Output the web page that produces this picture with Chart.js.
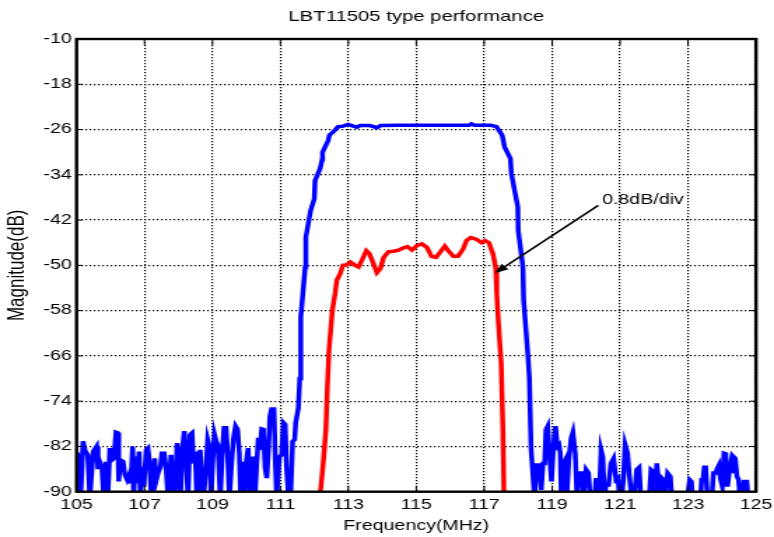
<!DOCTYPE html>
<html>
<head>
<meta charset="utf-8">
<script src="https://cdn.jsdelivr.net/npm/chart.js@4"></script>
<style>
html,body{margin:0;padding:0;background:#fff;overflow:hidden}
#wrap{width:774px;height:537px;overflow:hidden;background:#fff}
#c{transform:scaleX(1.39964);transform-origin:0 0}
</style>
</head>
<body>
<div id="wrap"><canvas id="c" width="553" height="537" style="width:553px;height:537px"></canvas></div>
<script>
const titleText = 'LBT11505 type performance';
const xTitle = 'Frequency(MHz)';
const yTitle = 'Magnitude(dB)';
const xTicks = [105, 107, 109, 111, 113, 115, 117, 119, 121, 123, 125];
const yTicks = [-90, -82, -74, -66, -58, -50, -42, -34, -26, -18, -10];

const blueFreq = [
  105.00,105.07,105.12,105.19,105.26,105.33,105.39,105.49,105.59,105.63,105.68,105.75,105.80,105.86,105.92,105.98,
  106.04,106.10,106.16,106.21,106.24,106.29,106.37,106.42,106.49,106.55,106.60,106.65,106.68,106.73,106.78,106.84,106.88,106.93,106.98,
  107.05,107.10,107.15,107.20,107.25,107.30,107.35,107.40,107.47,107.51,107.58,107.64,107.69,107.74,107.78,107.84,107.90,107.96,
  108.01,108.06,108.11,108.17,108.23,108.28,108.34,108.40,108.44,108.49,108.54,108.59,108.64,108.69,108.74,108.81,108.86,108.91,108.96,
  109.01,109.06,109.11,109.16,109.23,109.29,109.34,109.40,109.45,109.50,109.56,109.62,109.68,109.74,109.79,109.83,109.89,109.94,109.99,
  110.05,110.11,110.16,110.21,110.25,110.30,110.35,110.40,110.45,110.50,110.55,110.60,110.65,110.69,110.74,110.81,110.85,110.89,110.97,
  111.04,111.09,111.14,111.18,111.24,111.30,111.36,111.42,111.45,111.53,111.57,111.60,111.73,111.75,111.89,
  112.00,112.02,112.17,112.23,112.24,112.41,112.44,112.56,112.70,112.85,
  113.00,113.10,113.25,113.35,113.50,113.62,113.75,113.83,113.95,114.50,115.00,115.50,116.00,116.55,116.62,116.72,
  117.20,117.36,117.53,117.60,117.77,117.80,117.99,118.00,118.14,118.16,118.29,118.33,118.38,118.48,
  118.55,118.63,118.68,118.73,118.78,118.82,118.87,118.92,118.98,119.04,119.10,119.15,119.20,119.24,119.27,119.34,119.39,119.43,
  119.49,119.56,119.61,119.68,119.73,119.78,119.87,119.92,120.00,120.07,120.12,120.25,120.29,120.34,120.39,120.44,120.49,120.54,
  120.59,120.66,120.73,120.81,120.88,120.94,120.98,121.05,121.10,121.15,121.22,121.27,121.34,121.42,121.49,121.56,121.61,121.86,
  121.91,121.97,122.02,122.08,122.13,122.18,122.23,122.28,122.33,122.40,122.48,122.52,122.74,122.98,123.05,123.10,123.13,123.25,
  123.37,123.40,123.44,123.48,123.52,123.57,123.70,123.75,123.81,123.86,123.91,123.96,124.01,124.06,124.11,124.16,124.21,124.26,
  124.31,124.34,124.39,124.44,124.49,124.53,124.60,124.65,124.73,124.77,125.00
];
const blueMag = [
  -83.1,-83.8,-91,-81.1,-82.9,-83.5,-91,-82.9,-82.0,-86.0,-84.7,-86.0,-91,-84.7,-91,-82.3,
  -84.4,-84.1,-79.5,-79.6,-88.2,-84.4,-84.7,-87.0,-87.9,-87.0,-88.5,-82.0,-91,-83.8,-88.5,-82.9,-91,-85.6,-89.1,
  -82.6,-82.3,-85.0,-91,-88.5,-84.1,-87.9,-86.7,-85.6,-83.2,-83.2,-86.1,-91,-87.9,-83.5,-91,-89.7,-81.4,
  -83.8,-91,-82.9,-79.3,-85.0,-91,-79.9,-79.6,-85.0,-82.9,-91,-85.6,-82.6,-89.7,-91,-85.6,-80.8,-82.0,-91,
  -84.4,-79.9,-81.1,-81.7,-91,-83.2,-78.7,-78.7,-83.8,-91,-85.3,-80.5,-78.4,-79.0,-83.2,-91,-84.7,-91,-85.0,
  -82.3,-91,-87.3,-83.8,-91,-85.6,-80.5,-82.6,-78.9,-79.0,-85.8,-87.6,-82.3,-76.7,-75.4,-75.4,-84.4,-91,-83.8,
  -83.5,-77.8,-78.1,-85.6,-91,-91,-81.1,-80.8,-77.8,-75.2,-70.0,-59.1,-50.3,-45.0,-40.3,
  -38.2,-35.0,-32.9,-31.3,-30.0,-27.9,-27.0,-26.4,-25.5,-25.4,
  -25.1,-25.3,-25.6,-25.3,-25.3,-25.3,-25.5,-25.7,-25.3,-25.25,-25.25,-25.25,-25.25,-25.25,-25.0,-25.25,
  -25.25,-25.5,-27.0,-29.1,-31.1,-33.8,-39.7,-43.8,-50.3,-56.1,-66.2,-70.0,-82.5,-91,
  -85.3,-85.3,-89.7,-85.0,-85.0,-79.0,-78.4,-83.2,-88.2,-82.0,-78.4,-82.0,-81.7,-83.2,-91,-85.0,-84.4,-91,
  -84.4,-80.5,-79.5,-83.2,-91,-86.7,-86.7,-91,-86.1,-86.7,-91,-91,-87.9,-87.9,-91,-82.6,-83.8,-91,
  -88.8,-88.8,-85.0,-84.1,-87.9,-87.6,-91,-91,-87.6,-81.7,-83.2,-87.0,-91,-91,-86.1,-85.7,-91,-91,
  -86.1,-86.4,-91,-85.0,-87.9,-91,-87.6,-87.9,-91,-86.7,-87.3,-91,-95,-91,-87.9,-88.2,-91,-94,
  -91,-87.9,-87.9,-85.7,-85.7,-91,-91,-86.7,-86.7,-85.9,-85.3,-87.9,-89.1,-83.2,-83.3,-89.1,-86.7,-85.0,
  -86.7,-83.8,-84.1,-87.3,-87.9,-91,-91,-88.2,-88.2,-91,-95
];

const redFreq = [
  112.17,112.18,112.26,112.34,112.38,112.43,112.53,112.61,112.66,112.76,112.84,112.96,
  113.06,113.20,113.30,113.40,113.53,113.62,113.74,113.84,113.94,114.04,114.18,114.33,114.48,114.63,114.74,114.87,
  115.02,115.16,115.31,115.45,115.58,115.70,115.84,115.94,116.09,116.23,116.38,116.48,116.60,116.77,116.92,
  117.02,117.14,117.26,117.34,117.37,117.42,117.50,117.55,117.58,117.585
];
const redMag = [
  -91,-90,-85,-79,-72,-65,-57.9,-55.0,-52.6,-51.5,-50.0,-49.9,
  -49.4,-50.0,-50.3,-49.1,-47.4,-47.9,-49.7,-51.3,-50.6,-48.6,-47.6,-47.5,-47.3,-46.9,-46.7,-47.3,
  -46.5,-46.2,-46.8,-48.4,-48.6,-47.7,-46.6,-47.4,-48.4,-48.4,-47.1,-45.6,-45.1,-45.4,-46.0,
  -45.6,-46.0,-48.0,-50.5,-55.0,-60.3,-67.3,-79.0,-90,-91
];

const noteText = '0.8dB/div';
const noteAt = [120.47, -38.5];
const arrowFrom = [120.36, -39.4];
const arrowTo = [117.31, -51.4];

const FONT = '"Liberation Sans", Arial, Helvetica, sans-serif';

function pairs(xs, ys) { return xs.map((v, i) => ({x: v, y: ys[i]})); }

const overlay = {
  id: 'overlay',
  beforeDraw(chart) {
    const {ctx, chartArea: a} = chart;
    ctx.save();
    ctx.fillStyle = '#000';
    ctx.font = '14.5px ' + FONT;
    ctx.textAlign = 'center';
    ctx.textBaseline = 'middle';
    ctx.fillText(titleText, (a.left + a.right) / 2, 17.4);
    ctx.restore();
  },
  afterDatasetsDraw(chart) {
    const {ctx, chartArea: a, scales: {x, y}} = chart;
    ctx.save();
    ctx.strokeStyle = '#000';
    ctx.lineWidth = 1;
    ctx.beginPath();
    xTicks.forEach(v => {
      const px = x.getPixelForValue(v);
      ctx.moveTo(px, a.bottom); ctx.lineTo(px, a.bottom - 6);
      ctx.moveTo(px, a.top); ctx.lineTo(px, a.top + 6);
    });
    yTicks.forEach(v => {
      const py = y.getPixelForValue(v);
      ctx.moveTo(a.left, py); ctx.lineTo(a.left + 4.5, py);
      ctx.moveTo(a.right, py); ctx.lineTo(a.right - 4.5, py);
    });
    ctx.stroke();
    ctx.lineWidth = 2.4;
    ctx.strokeRect(a.left, a.top, a.right - a.left, a.bottom - a.top);
    ctx.restore();
  },
  afterDraw(chart) {
    const {ctx, scales: {x, y}} = chart;
    ctx.save();
    ctx.fillStyle = '#000';
    ctx.strokeStyle = '#000';
    ctx.font = '14px ' + FONT;
    ctx.textAlign = 'left';
    ctx.textBaseline = 'middle';
    ctx.fillText(noteText, x.getPixelForValue(noteAt[0]), y.getPixelForValue(noteAt[1]));
    const x0 = x.getPixelForValue(arrowFrom[0]), y0 = y.getPixelForValue(arrowFrom[1]);
    const x1 = x.getPixelForValue(arrowTo[0]), y1 = y.getPixelForValue(arrowTo[1]);
    const ang = Math.atan2(y1 - y0, x1 - x0);
    const L = 10, W = 3.6;
    ctx.lineWidth = 1.5;
    ctx.beginPath();
    ctx.moveTo(x0, y0);
    ctx.lineTo(x1 - Math.cos(ang) * L * 0.8, y1 - Math.sin(ang) * L * 0.8);
    ctx.stroke();
    ctx.beginPath();
    ctx.moveTo(x1, y1);
    ctx.lineTo(x1 - Math.cos(ang) * L - Math.sin(ang) * W, y1 - Math.sin(ang) * L + Math.cos(ang) * W);
    ctx.lineTo(x1 - Math.cos(ang) * L + Math.sin(ang) * W, y1 - Math.sin(ang) * L - Math.cos(ang) * W);
    ctx.closePath();
    ctx.fill();
    ctx.restore();
  }
};

new Chart(document.getElementById('c'), {
  type: 'line',
  data: {
    datasets: [
      {data: pairs(blueFreq, blueMag), borderColor: '#0000ff', borderWidth: 3.5, pointRadius: 0, tension: 0, clip: 0, fill: false},
      {data: pairs(redFreq, redMag), borderColor: '#ff0000', borderWidth: 3.5, pointRadius: 0, tension: 0, clip: 0, fill: false}
    ]
  },
  options: {
    responsive: false,
    animation: false,
    devicePixelRatio: 1,
    layout: {padding: {left: 0, right: 12.9, top: 39, bottom: 0}},
    plugins: {
      legend: {display: false},
      tooltip: {enabled: false},
      title: {display: false}
    },
    scales: {
      x: {
        type: 'linear', min: 105, max: 125,
        afterBuildTicks: s => { s.ticks = xTicks.map(v => ({value: v})); },
        afterFit: s => { s.height = 45.3; s.paddingLeft = 0; s.paddingRight = 0; },
        ticks: {color: '#000', font: {family: FONT, size: 14}, padding: 5.5, maxRotation: 0, autoSkip: false},
        grid: {color: '#000', lineWidth: 1.2, drawTicks: false},
        border: {display: false, dash: [1.2, 1.8]},
        title: {display: true, text: xTitle, color: '#000', font: {family: FONT, size: 14}, padding: {top: 0, bottom: 2}}
      },
      y: {
        type: 'linear', min: -90, max: -10,
        afterBuildTicks: s => { s.ticks = yTicks.map(v => ({value: v})); },
        afterFit: s => { s.width = 54.7; s.paddingTop = 0; s.paddingBottom = 0; },
        ticks: {color: '#000', font: {family: FONT, size: 14}, padding: 3.5, autoSkip: false},
        grid: {color: '#000', lineWidth: 1.2, drawTicks: false},
        border: {display: false, dash: [1.2, 1.8]},
        title: {display: true, text: yTitle, color: '#000', font: {family: FONT, size: 17}, padding: {top: 1.9, bottom: 0}}
      }
    }
  },
  plugins: [overlay]
});
</script>
</body>
</html>
